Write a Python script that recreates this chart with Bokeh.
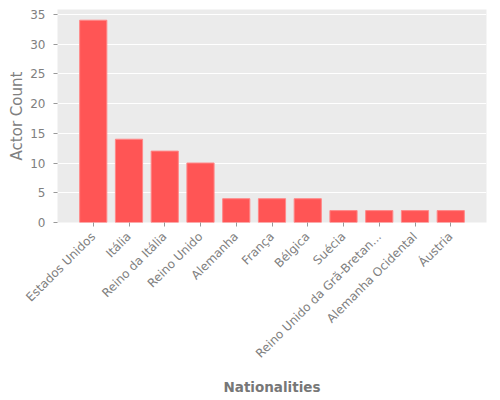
from bokeh.plotting import figure
from bokeh.models import FactorRange, Range1d, SingleIntervalTicker
from bokeh.embed import file_html
from bokeh.resources import INLINE
import math

nationalities = ["Estados Unidos", "Itália", "Reino da Itália", "Reino Unido", "Alemanha",
                 "França", "Bélgica", "Suécia", "Reino Unido da Grã-Bretan...",
                 "Alemanha Ocidental", "Áustria"]
counts = [34, 14, 12, 10, 4, 4, 4, 2, 2, 2, 2]

p = figure(frame_width=429, frame_height=213, output_backend="svg", toolbar_location=None,
           x_range=FactorRange(factors=nationalities, range_padding=0.5, range_padding_units="absolute"),
           y_range=Range1d(0, 35.8),
           min_border_top=9, min_border_right=4, min_border_left=57, min_border_bottom=160)

p.vbar(x=nationalities, top=counts, width=0.76, fill_color="#FF5555",
       line_color="#FF8888", line_width=1)

p.background_fill_color = "#EBEBEB"
p.border_fill_color = "white"
p.outline_line_color = None
p.xgrid.grid_line_color = None
p.ygrid.grid_line_color = "white"
p.ygrid.grid_line_width = 1

p.yaxis.ticker = SingleIntervalTicker(interval=5)
for ax in (p.xaxis, p.yaxis):
    ax.axis_line_color = None
    ax.major_tick_line_color = "#999999"
    ax.major_tick_in = 0
    ax.major_tick_out = 4
    ax.minor_tick_line_color = None
    ax.major_label_text_color = "#808080"
    ax.major_label_text_font = "DejaVu Sans"
    ax.major_label_text_font_size = "12px"
    ax.axis_label_text_color = "#808080"
    ax.axis_label_text_font = "DejaVu Sans"

p.xaxis.major_label_orientation = math.pi / 4
p.xaxis.major_label_standoff = 8
p.xaxis.axis_label = "Nationalities"
p.xaxis.axis_label_text_font_style = "bold"
p.xaxis.axis_label_text_font_size = "13.5px"
p.xaxis.axis_label_text_color = "#777777"
p.xaxis.axis_label_standoff = 10
p.yaxis.major_label_standoff = 8
p.yaxis.axis_label = "Actor Count"
p.yaxis.axis_label_text_font_style = "normal"
p.yaxis.axis_label_text_font_size = "15px"
p.yaxis.axis_label_standoff = 1

open("out.html", "w").write(file_html(p, INLINE))
